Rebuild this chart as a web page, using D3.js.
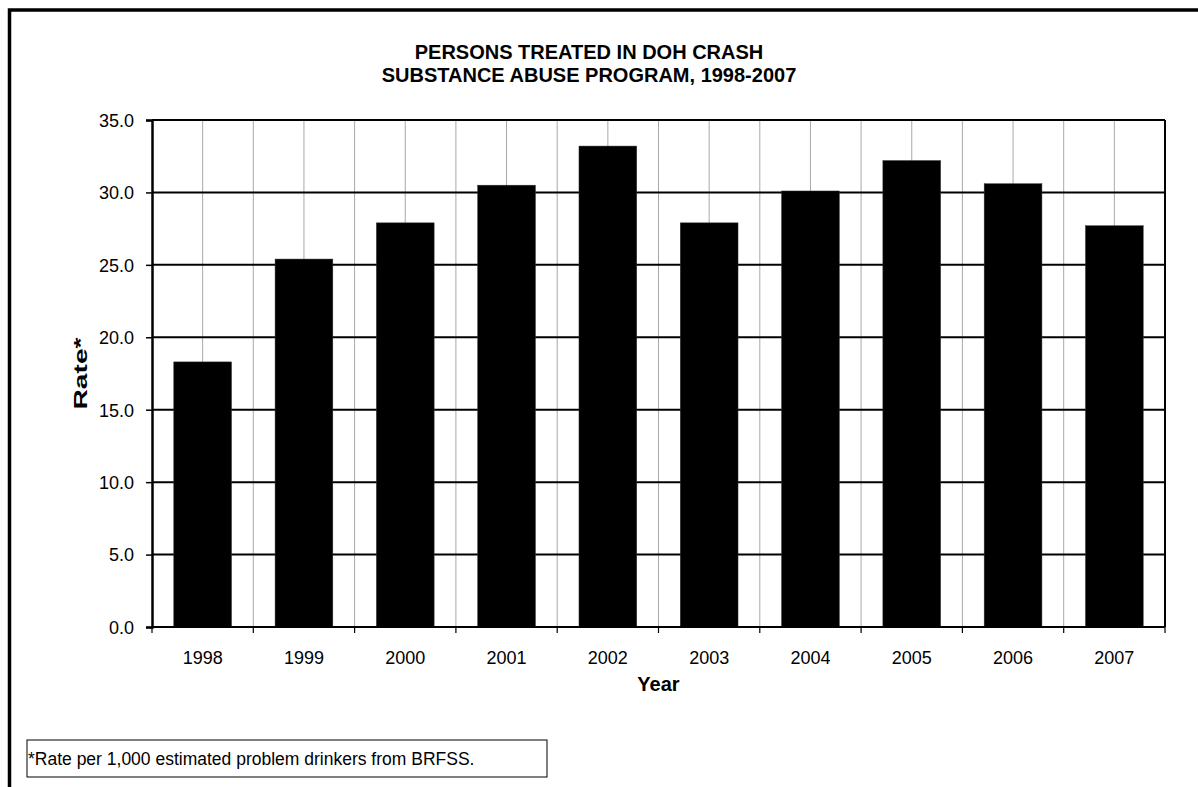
<!DOCTYPE html>
<html>
<head>
<meta charset="utf-8">
<script src="https://cdn.jsdelivr.net/npm/d3@7"></script>
<style>
  body { margin: 0; background: #fff; }
  svg { display: block; font-family: "Liberation Sans", Arial, sans-serif; }
</style>
</head>
<body>
<svg id="chart" width="1198" height="787"></svg>
<script>
const years = ["1998", "1999", "2000", "2001", "2002", "2003", "2004", "2005", "2006", "2007"];
const rates = [18.3, 25.4, 27.9, 30.5, 33.2, 27.9, 30.1, 32.2, 30.6, 27.7];
const yTicks = [0, 5, 10, 15, 20, 25, 30, 35];
const titleLines = ["PERSONS TREATED IN DOH CRASH", "SUBSTANCE ABUSE PROGRAM, 1998-2007"];
const footnote = "*Rate per 1,000 estimated problem drinkers from BRFSS.";

const svg = d3.select("#chart");
const plot = { left: 152, right: 1165, top: 120, bottom: 627 };

// outer frame, runs off the right and bottom edges like the source
svg
  .append("rect")
  .attr("x", 9.5)
  .attr("y", 10)
  .attr("width", 1400)
  .attr("height", 1000)
  .attr("fill", "none")
  .attr("stroke", "black")
  .attr("stroke-width", 3.5);

const x = d3
  .scaleBand()
  .domain(years)
  .range([plot.left, plot.right])
  .paddingInner(0.43)
  .paddingOuter(0.215);

const y = d3.scaleLinear().domain([0, 35]).range([plot.bottom, plot.top]);

const step = (plot.right - plot.left) / years.length;

// vertical gray gridlines at band centres and band edges
const vLines = [];
years.forEach((d, i) => {
  vLines.push(plot.left + i * step + step / 2);
  if (i > 0) vLines.push(plot.left + i * step);
});
svg
  .append("g")
  .selectAll("line")
  .data(vLines)
  .join("line")
  .attr("x1", (d) => d)
  .attr("x2", (d) => d)
  .attr("y1", plot.top)
  .attr("y2", plot.bottom)
  .attr("stroke", "#a8a8a8")
  .attr("stroke-width", 1);

// horizontal black gridlines
svg
  .append("g")
  .selectAll("line")
  .data(yTicks.slice(1))
  .join("line")
  .attr("x1", plot.left)
  .attr("x2", plot.right)
  .attr("y1", (d) => y(d))
  .attr("y2", (d) => y(d))
  .attr("stroke", "black")
  .attr("stroke-width", 2);

// right plot edge
svg
  .append("line")
  .attr("x1", plot.right)
  .attr("x2", plot.right)
  .attr("y1", plot.top)
  .attr("y2", plot.bottom)
  .attr("stroke", "black")
  .attr("stroke-width", 2);

// bars
svg
  .append("g")
  .selectAll("rect")
  .data(years)
  .join("rect")
  .attr("x", (d) => x(d))
  .attr("y", (d, i) => y(rates[i]))
  .attr("width", x.bandwidth())
  .attr("height", (d, i) => y(0) - y(rates[i]))
  .attr("fill", "black")
  .attr("stroke", "#333")
  .attr("stroke-width", 0.5);

// y axis
const yAxis = svg
  .append("g")
  .attr("transform", `translate(${plot.left},0)`)
  .call(
    d3
      .axisLeft(y)
      .tickValues(yTicks)
      .tickSize(6)
      .tickPadding(12)
      .tickFormat(d3.format(".1f"))
  );
yAxis.select(".domain").attr("stroke-width", 2.5);
yAxis.selectAll(".tick line").attr("stroke-width", 1.5);
yAxis
  .selectAll("text")
  .attr("font-size", "18px")
  .attr("font-family", "Liberation Sans, Arial, sans-serif")
  .attr("fill", "black")
  .attr("dy", "0.35em");

// x axis: ticks at band edges, labels at band centres
const xAxis = svg.append("g").attr("transform", `translate(0,${plot.bottom})`);
xAxis
  .append("line")
  .attr("x1", plot.left)
  .attr("x2", plot.right)
  .attr("stroke", "black")
  .attr("stroke-width", 2);
xAxis
  .selectAll(".edge")
  .data(d3.range(years.length + 1))
  .join("line")
  .attr("class", "edge")
  .attr("x1", (i) => plot.left + i * step)
  .attr("x2", (i) => plot.left + i * step)
  .attr("y1", 0)
  .attr("y2", 6)
  .attr("stroke", "black")
  .attr("stroke-width", 1.2);
xAxis
  .selectAll("text")
  .data(years)
  .join("text")
  .attr("x", (d) => x(d) + x.bandwidth() / 2)
  .attr("y", 37)
  .attr("text-anchor", "middle")
  .attr("font-size", "18px")
  .text((d) => d);

// title
svg
  .append("g")
  .selectAll("text")
  .data(titleLines)
  .join("text")
  .attr("x", 589)
  .attr("y", (d, i) => 59 + i * 23)
  .attr("text-anchor", "middle")
  .attr("font-size", "20px")
  .attr("font-weight", "bold")
  .text((d) => d);

// axis titles
svg
  .append("text")
  .attr("x", (plot.left + plot.right) / 2)
  .attr("y", 691)
  .attr("text-anchor", "middle")
  .attr("font-size", "20px")
  .attr("font-weight", "bold")
  .text("Year");

svg
  .append("text")
  .attr("transform", `translate(87,${(plot.top + plot.bottom) / 2}) rotate(-90)`)
  .attr("text-anchor", "middle")
  .attr("font-size", "19px")
  .attr("font-weight", "bold")
  .attr("textLength", 72)
  .attr("lengthAdjust", "spacingAndGlyphs")
  .text("Rate*");

// footnote box
svg
  .append("rect")
  .attr("x", 27)
  .attr("y", 740)
  .attr("width", 520)
  .attr("height", 37)
  .attr("fill", "white")
  .attr("stroke", "black")
  .attr("stroke-width", 1);

svg
  .append("text")
  .attr("x", 28)
  .attr("y", 765)
  .attr("font-size", "17.5px")
  .text(footnote);
</script>
</body>
</html>
